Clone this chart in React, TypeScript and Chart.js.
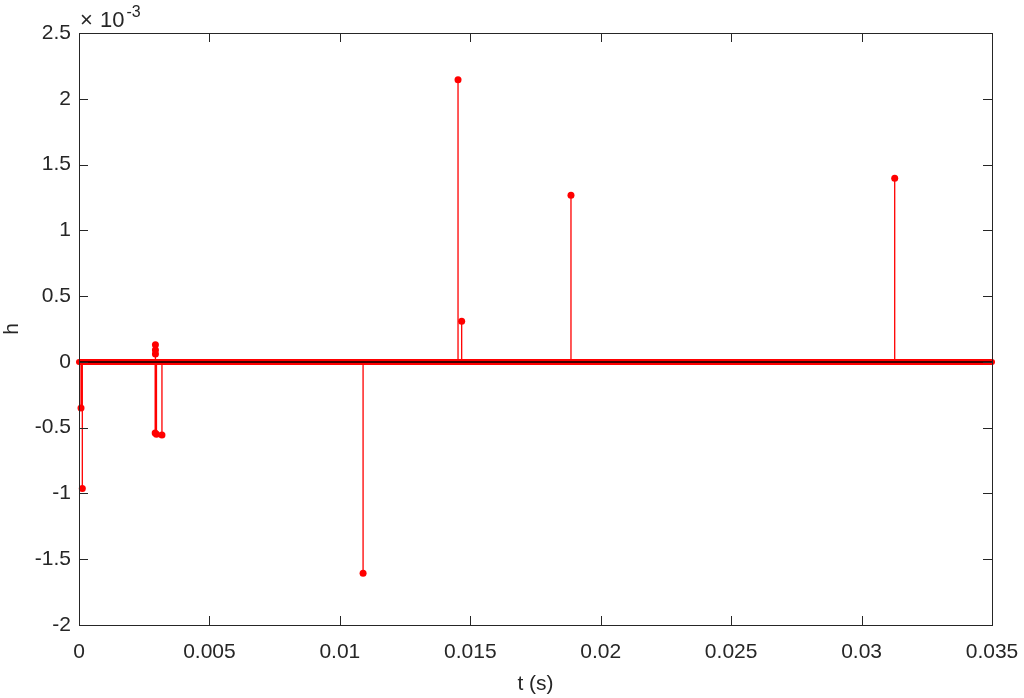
import React, { useEffect, useRef } from "react";
import { Chart, registerables } from "chart.js";

Chart.register(...registerables);

// Non-zero samples of h (values in units of 1e-3)
const stemTimes = [0.000077, 0.000127, 0.00292, 0.00293, 0.00293, 0.00293, 0.00297, 0.00318, 0.01089, 0.01453, 0.01467, 0.01886, 0.03127];
const stemValues = [-0.35, -0.963, -0.54, 0.13, 0.09, 0.06, -0.55, -0.555, -1.607, 2.144, 0.309, 1.267, 1.396];
// Extent of the zero-valued samples
const zeroRange = [0, 0.035];
const xTicks = [0, 0.005, 0.01, 0.015, 0.02, 0.025, 0.03, 0.035];
const xTickLabels = ["0", "0.005", "0.01", "0.015", "0.02", "0.025", "0.03", "0.035"];
const yTicks = [-2, -1.5, -1, -0.5, 0, 0.5, 1, 1.5, 2, 2.5];
const yTickLabels = ["-2", "-1.5", "-1", "-0.5", "0", "0.5", "1", "1.5", "2", "2.5"];
const xTitle = "t (s)";
const yTitle = "h";
const exponentTimes = "×";
const exponentBase = "10";
const exponent = "-3";

const AX = "#262626";
const RED = "#ff0000";
const FONT = "'Liberation Sans', Arial, sans-serif";

export default function App() {
  const ref = useRef<HTMLCanvasElement | null>(null);
  useEffect(() => {
    const canvas = ref.current!;
    const stemData: any[] = [];
    stemTimes.forEach((t, i) => {
      stemData.push({ x: t, y: 0 });
      stemData.push({ x: t, y: stemValues[i] });
      stemData.push({ x: t, y: null });
    });
    const boxPlugin = {
      id: "matlabBox",
      afterDraw(chart: any) {
        const { ctx, chartArea: a, scales } = chart;
        ctx.save();
        ctx.strokeStyle = AX;
        ctx.lineWidth = 1;
        ctx.strokeRect(a.left + 0.5, a.top + 0.5, a.right - a.left, a.bottom - a.top);
        const tl = 9;
        ctx.beginPath();
        xTicks.forEach((v) => {
          const px = Math.round(scales.x.getPixelForValue(v)) + 0.5;
          ctx.moveTo(px, a.bottom);
          ctx.lineTo(px, a.bottom - tl);
          ctx.moveTo(px, a.top);
          ctx.lineTo(px, a.top + tl);
        });
        yTicks.forEach((v) => {
          const py = Math.round(scales.y.getPixelForValue(v)) + 0.5;
          ctx.moveTo(a.left, py);
          ctx.lineTo(a.left + tl, py);
          ctx.moveTo(a.right, py);
          ctx.lineTo(a.right - tl, py);
        });
        ctx.stroke();
        ctx.fillStyle = AX;
        ctx.font = `21px ${FONT}`;
        ctx.textAlign = "center";
        ctx.textBaseline = "middle";
        ctx.fillText(xTitle, (a.left + a.right) / 2, 684);
        ctx.save();
        ctx.translate(12, (a.top + a.bottom) / 2);
        ctx.rotate(-Math.PI / 2);
        ctx.fillText(yTitle, 0, 0);
        ctx.restore();
        ctx.textAlign = "left";
        ctx.textBaseline = "alphabetic";
        ctx.font = `22px ${FONT}`;
        ctx.fillText(exponentTimes, a.left + 1, 27);
        ctx.fillText(exponentBase, a.left + 21, 27);
        const w = ctx.measureText(exponentBase).width;
        ctx.font = `16px ${FONT}`;
        ctx.fillText(exponent, a.left + 23 + w, 17);
        ctx.restore();
      },
    };
    const chart = new Chart(canvas, {
      type: "line",
      data: {
        datasets: [
          {
            label: "dots",
            data: stemTimes.map((t, i) => ({ x: t, y: stemValues[i] })),
            showLine: false,
            pointRadius: 3.5,
            pointBackgroundColor: RED,
            pointBorderColor: RED,
            pointBorderWidth: 0,
            order: 0,
          },
          {
            label: "baseline",
            data: zeroRange.map((t) => ({ x: t, y: 0 })),
            borderColor: "#000000",
            borderWidth: 1.5,
            pointRadius: 0,
            order: 1,
          },
          {
            label: "zeros",
            data: zeroRange.map((t) => ({ x: t, y: 0 })),
            borderColor: RED,
            borderWidth: 6,
            borderCapStyle: "round",
            pointRadius: 0,
            order: 2,
          },
          {
            label: "stems",
            data: stemData,
            borderColor: RED,
            borderWidth: 1.3,
            pointRadius: 0,
            spanGaps: false,
            order: 3,
          },
        ],
      },
      options: {
        animation: false,
        responsive: false,
        parsing: true,
        clip: false,
        layout: { padding: { top: 33, right: 32, left: 0, bottom: 0 } },
        plugins: { legend: { display: false }, tooltip: { enabled: false } },
        scales: {
          x: {
            type: "linear",
            min: 0,
            max: 0.035,
            grid: { display: false, drawTicks: false },
            border: { display: false },
            afterBuildTicks: (s: any) => {
              s.ticks = xTicks.map((v) => ({ value: v }));
            },
            afterFit: (s: any) => {
              s.height = 73;
              s.paddingLeft = 0;
              s.paddingRight = 0;
            },
            ticks: {
              padding: 15,
              color: AX,
              font: { family: FONT, size: 21 },
              maxRotation: 0,
              autoSkip: false,
              callback: (v: any) => {
                const i = xTicks.findIndex((t) => Math.abs(t - Number(v)) < 1e-9);
                return i >= 0 ? xTickLabels[i] : "";
              },
            },
          },
          y: {
            type: "linear",
            min: -2,
            max: 2.5,
            grid: { display: false, drawTicks: false },
            border: { display: false },
            afterBuildTicks: (s: any) => {
              s.ticks = yTicks.map((v) => ({ value: v }));
            },
            afterFit: (s: any) => {
              s.width = 79;
              s.paddingTop = 0;
              s.paddingBottom = 0;
            },
            ticks: {
              padding: 8,
              color: AX,
              font: { family: FONT, size: 21 },
              autoSkip: false,
              callback: (v: any) => {
                const i = yTicks.findIndex((t) => Math.abs(t - Number(v)) < 1e-9);
                return i >= 0 ? yTickLabels[i] : "";
              },
            },
          },
        },
      },
      plugins: [boxPlugin],
    } as any);
    return () => chart.destroy();
  }, []);
  return (
    <div style={{ position: "fixed", left: 0, top: 0, width: 1024, height: 698, background: "#fff" }}>
      <canvas ref={ref} width={1024} height={698} style={{ display: "block" }} />
    </div>
  );
}
